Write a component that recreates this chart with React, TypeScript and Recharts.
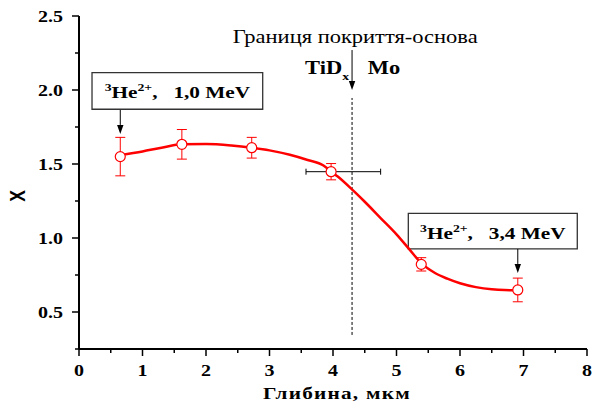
import React from "react";
import {
  ComposedChart,
  Line,
  Scatter,
  ErrorBar,
  XAxis,
  YAxis,
  ReferenceLine,
  ReferenceArea,
  ReferenceDot,
  Label,
} from "recharts";

// measured points: depth (um), X value, errors
const depth = [0.65, 1.62, 2.72, 3.97, 5.39, 6.91];
const xValue = [1.55, 1.633, 1.61, 1.448, 0.822, 0.649];
const xValueErr = [0.13, 0.1, 0.07, 0.055, 0.045, 0.08];
// horizontal error only on the 4th point (left, right)
const depthErrLeft = 0.395;
const depthErrRight = 0.78;

// fitted curve
const fitDepth = [0.65, 1.0, 1.3, 1.62, 2.0, 2.4, 2.72, 3.0, 3.32, 3.6, 3.85, 3.97, 4.08, 4.32, 4.5, 4.75, 5.0, 5.2, 5.39, 5.6, 5.8, 6.0, 6.25, 6.5, 6.7, 6.91];
const fitValue = [1.56, 1.585, 1.61, 1.633, 1.635, 1.625, 1.61, 1.592, 1.562, 1.527, 1.49, 1.45, 1.414, 1.32, 1.245, 1.135, 1.025, 0.925, 0.83, 0.765, 0.725, 0.694, 0.668, 0.653, 0.648, 0.647];

const xTicks = [0, 0.5, 1, 1.5, 2, 2.5, 3, 3.5, 4, 4.5, 5, 5.5, 6, 6.5, 7, 7.5, 8];
const yTicks = [0.25, 0.5, 0.75, 1.0, 1.25, 1.5, 1.75, 2.0, 2.25, 2.5];
const yMajor = [0.5, 1.0, 1.5, 2.0, 2.5];

const points = depth.map((d, i) => ({ x: d, y: xValue[i], yErr: xValueErr[i] }));
const wideErrPoint = [{ x: depth[3], y: xValue[3], xErr: [depthErrLeft, depthErrRight] }];
const fit = fitDepth.map((d, i) => ({ x: d, y: fitValue[i] }));

const SERIF = "'Liberation Serif', 'Times New Roman', serif";
const SANS = "'Liberation Sans', Arial, sans-serif";
const SX = 1.25; // the original figure is stretched sideways
const RED = "#ff0000";

const WideText = ({ x, y, anchor = "start", size = 17, bold = true, family = SERIF, spacing = 0, children }: any) => (
  <text
    transform={`translate(${x},${y}) scale(${SX},1)`}
    textAnchor={anchor}
    fontSize={size}
    fontWeight={bold ? "bold" : "normal"}
    fontFamily={family}
    letterSpacing={spacing}
    fill="#000"
    style={{ whiteSpace: "pre" }}
  >
    {children}
  </text>
);

const BottomTick = ({ x, y, payload }: any) => {
  const major = Number.isInteger(payload.value);
  return (
    <g>
      <line x1={x} y1={y} x2={x} y2={y + (major ? 7 : 4)} stroke="#000" strokeWidth={1.5} />
      {major && <WideText x={x} y={y + 27} anchor="middle" size={16}>{payload.value}</WideText>}
    </g>
  );
};

const TopTick = ({ x, y, payload }: any) => {
  const major = Number.isInteger(payload.value);
  return <line x1={x} y1={y} x2={x} y2={y + (major ? 7 : 4)} stroke="#000" strokeWidth={1.5} />;
};

const LeftTick = ({ x, y, payload }: any) => {
  const major = yMajor.includes(payload.value);
  return (
    <g>
      <line x1={x - (major ? 7 : 4)} y1={y} x2={x} y2={y} stroke="#000" strokeWidth={1.5} />
      {major && <WideText x={x - 16} y={y + 6} anchor="end" size={16}>{payload.value.toFixed(1)}</WideText>}
    </g>
  );
};

const RightTick = ({ x, y, payload }: any) => {
  const major = yMajor.includes(payload.value);
  return <line x1={x - (major ? 6 : 4)} y1={y} x2={x} y2={y} stroke="#000" strokeWidth={1.5} />;
};

const Arrow = (p: any) => {
  const { x1, y1, x2, y2 } = p;
  const len = Math.hypot(x2 - x1, y2 - y1) || 1;
  const ux = (x2 - x1) / len;
  const uy = (y2 - y1) / len;
  const hx = x2 - ux * 9;
  const hy = y2 - uy * 9;
  return (
    <g>
      <line x1={x1} y1={y1} x2={hx} y2={hy} stroke="#000" strokeWidth={1} />
      <polygon points={`${x2},${y2} ${hx - uy * 3.2},${hy + ux * 3.2} ${hx + uy * 3.2},${hy - ux * 3.2}`} fill="#000" />
    </g>
  );
};

const beamLabel = (energy: string) => (props: any) => {
  const { x, y, width, height } = props.viewBox;
  return (
    <WideText x={x + width / 2} y={y + height / 2 + 7.5} anchor="middle" size={17}>
      <tspan fontSize={11} dy={-7}>3</tspan>
      <tspan dy={7}>He</tspan>
      <tspan fontSize={11} dy={-7}>2+</tspan>
      <tspan dy={7}>{`,   ${energy} MeV`}</tspan>
    </WideText>
  );
};

const Marker = (p: any) => <circle cx={p.cx} cy={p.cy} r={5} fill="#fff" stroke={RED} strokeWidth={1.2} />;
const NoMarker = () => <g />;

export default function App() {
  return (
    <div style={{ position: "absolute", left: 0, top: 0, width: 592, height: 403, background: "#fff" }}>
      <ComposedChart width={592} height={403} margin={{ top: 16, right: 5, bottom: 0, left: 0 }}>
        <XAxis
          dataKey="x"
          type="number"
          domain={[0, 8]}
          ticks={xTicks}
          interval={0}
          allowDataOverflow
          height={54}
          tickSize={0}
          tickMargin={0}
          tickLine={false}
          axisLine={{ stroke: "#000", strokeWidth: 2 }}
          tick={BottomTick}
        >
          <Label
            content={(p: any) => (
              <WideText x={p.viewBox.x + p.viewBox.width / 2 + 4} y={p.viewBox.y + 50} anchor="middle" size={17} spacing={1}>
                Глибина, мкм
              </WideText>
            )}
          />
        </XAxis>
        <XAxis
          xAxisId="top"
          orientation="top"
          dataKey="x"
          type="number"
          domain={[0, 8]}
          ticks={xTicks}
          interval={0}
          allowDataOverflow
          height={0}
          tickSize={0}
          tickMargin={0}
          tickLine={false}
          axisLine={{ stroke: "#000", strokeWidth: 2 }}
          tick={TopTick}
        />
        <YAxis
          dataKey="y"
          type="number"
          domain={[0.25, 2.5]}
          ticks={yTicks}
          interval={0}
          allowDataOverflow
          width={79}
          tickSize={0}
          tickMargin={0}
          tickLine={false}
          axisLine={{ stroke: "#000", strokeWidth: 2 }}
          tick={LeftTick}
        >
          <Label
            content={() => (
              <text
                transform={`translate(17,196) scale(1.3,1) rotate(-90)`}
                textAnchor="middle"
                dominantBaseline="central"
                fontFamily={SANS}
                fontWeight="bold"
                fontSize={17.5}
                fill="#000"
              >
                X
              </text>
            )}
          />
        </YAxis>
        <YAxis
          yAxisId="right"
          orientation="right"
          type="number"
          domain={[0.25, 2.5]}
          ticks={yTicks}
          interval={0}
          allowDataOverflow
          width={0}
          tickSize={0}
          tickMargin={0}
          tickLine={false}
          axisLine={{ stroke: "#000", strokeWidth: 2 }}
          tick={RightTick}
        />

        <ReferenceLine
          segment={[{ x: 4.3, y: 0.345 }, { x: 4.3, y: 1.946 }]}
          stroke="#000"
          strokeWidth={1}
          strokeDasharray="3 2"
        />

        <Line
          data={fit}
          dataKey="y"
          type="monotone"
          stroke={RED}
          strokeWidth={2.5}
          dot={false}
          activeDot={false}
          isAnimationActive={false}
        />
        <Scatter data={wideErrPoint} dataKey="y" shape={NoMarker} isAnimationActive={false}>
          <ErrorBar dataKey="xErr" direction="x" width={3} stroke="#000" strokeWidth={1} />
        </Scatter>
        <Scatter data={points} dataKey="y" shape={Marker} isAnimationActive={false}>
          <ErrorBar dataKey="yErr" direction="y" width={5} stroke={RED} strokeWidth={1} />
        </Scatter>

        <ReferenceArea x1={0.205} x2={2.893} y1={1.87} y2={2.117} fill="#fff" fillOpacity={1} stroke="#333" strokeWidth={1.3} label={beamLabel("1,0")} />
        <ReferenceArea x1={5.186} x2={7.847} y1={0.926} y2={1.167} fill="#fff" fillOpacity={1} stroke="#333" strokeWidth={1.3} label={beamLabel("3,4")} />

        <ReferenceLine segment={[{ x: 0.65, y: 1.865 }, { x: 0.65, y: 1.703 }]} shape={Arrow} />
        <ReferenceLine segment={[{ x: 6.91, y: 0.926 }, { x: 6.91, y: 0.764 }]} shape={Arrow} />
        <ReferenceLine segment={[{ x: 4.3, y: 2.27 }, { x: 4.3, y: 2.0 }]} shape={Arrow} />

        <ReferenceDot
          x={4.35}
          y={2.315}
          r={0}
          shape={(p: any) => (
            <WideText x={p.cx} y={p.cy} anchor="middle" size={18} bold={false}>
              Границя покриття-основа
            </WideText>
          )}
        />
        <ReferenceDot
          x={3.56}
          y={2.108}
          r={0}
          shape={(p: any) => (
            <WideText x={p.cx} y={p.cy} size={18}>
              TiD<tspan fontSize={11} dy={6}>x</tspan>
            </WideText>
          )}
        />
        <ReferenceDot
          x={4.546}
          y={2.108}
          r={0}
          shape={(p: any) => (
            <WideText x={p.cx} y={p.cy} size={18}>
              Mo
            </WideText>
          )}
        />
      </ComposedChart>
    </div>
  );
}
